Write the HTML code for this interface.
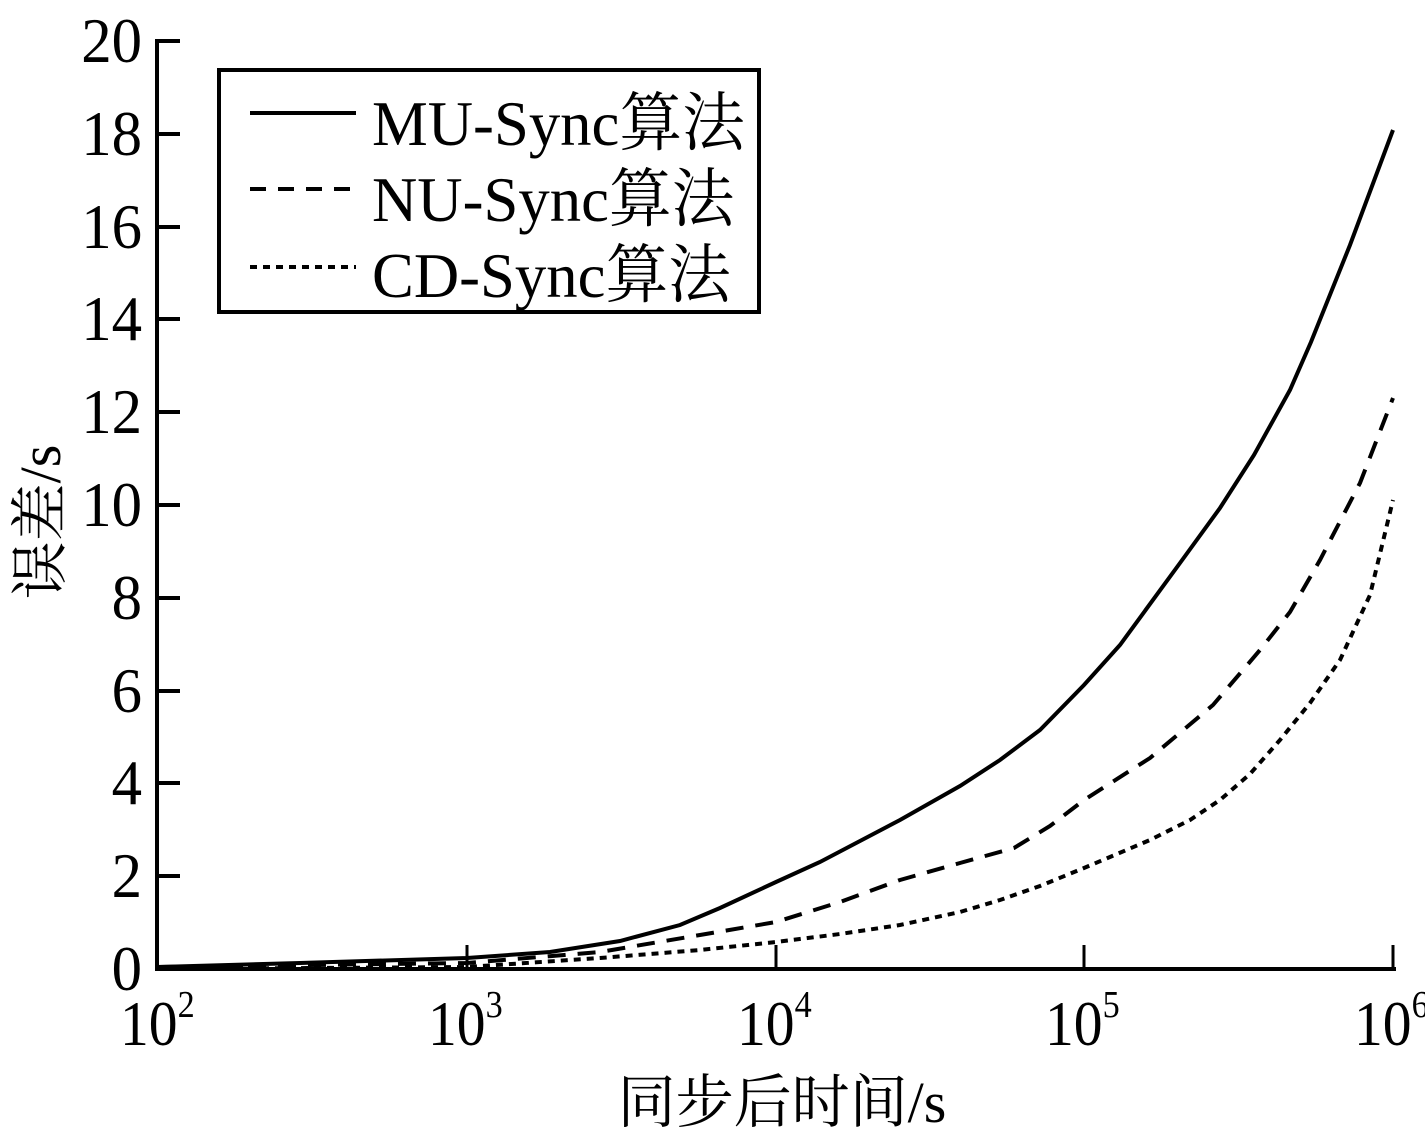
<!DOCTYPE html>
<html><head><meta charset="utf-8"><style>
html,body{margin:0;padding:0;background:#fff;}
svg text{font-family:"Liberation Serif","Noto Serif CJK SC",serif;fill:#000;}
</style></head><body>
<svg width="1425" height="1137" viewBox="0 0 1425 1137" xmlns="http://www.w3.org/2000/svg">
<g stroke="#000" stroke-width="4" fill="none">
<line x1="157" y1="39" x2="157" y2="971"/>
<line x1="155" y1="969" x2="1396" y2="969"/>
<line x1="157" y1="41" x2="180" y2="41"/>
<line x1="157" y1="134" x2="180" y2="134"/>
<line x1="157" y1="227" x2="180" y2="227"/>
<line x1="157" y1="319" x2="180" y2="319"/>
<line x1="157" y1="412" x2="180" y2="412"/>
<line x1="157" y1="505" x2="180" y2="505"/>
<line x1="157" y1="598" x2="180" y2="598"/>
<line x1="157" y1="691" x2="180" y2="691"/>
<line x1="157" y1="783" x2="180" y2="783"/>
<line x1="157" y1="876" x2="180" y2="876"/>
<line x1="467" y1="969" x2="467" y2="945" stroke-width="3"/>
<line x1="776" y1="969" x2="776" y2="945" stroke-width="3"/>
<line x1="1084" y1="969" x2="1084" y2="945" stroke-width="3"/>
<line x1="1393" y1="969" x2="1393" y2="945" stroke-width="3"/>
<rect x="219" y="70" width="540" height="242"/>
<line x1="250" y1="113" x2="356" y2="113"/>
<line x1="250" y1="189" x2="356" y2="189" stroke-dasharray="16,12"/>
<line x1="250" y1="267" x2="356" y2="267" stroke-dasharray="7,6"/>
<polyline points="158,967 300,963 467,958 550,952 620,941 680,925 720,908 776,882 820,862 900,820 960,786 1000,760 1040,730 1084,685 1120,645 1180,563 1220,508 1254,455 1290,390 1311,342 1350,245 1393,130"/>
<polyline stroke-dasharray="18,12" points="158,967 467,963 600,952 700,935 776,922 840,902 900,880 960,863 1014,848 1050,826 1084,800 1150,758 1213,705 1260,650 1290,612 1320,560 1360,483 1393,398"/>
<polyline stroke-dasharray="7,6" points="158,969 467,967 600,958 700,950 776,942 840,934 900,925 960,912 1000,900 1040,886 1084,868 1150,840 1190,820 1220,800 1250,774 1280,740 1310,703 1340,660 1370,595 1393,500"/>
</g>
<g font-size="64" text-anchor="end">
<text transform="translate(142,62) scale(0.95,1)">20</text>
<text transform="translate(142,155) scale(0.95,1)">18</text>
<text transform="translate(142,248) scale(0.95,1)">16</text>
<text transform="translate(142,340) scale(0.95,1)">14</text>
<text transform="translate(142,433) scale(0.95,1)">12</text>
<text transform="translate(142,526) scale(0.95,1)">10</text>
<text transform="translate(142,619) scale(0.95,1)">8</text>
<text transform="translate(142,712) scale(0.95,1)">6</text>
<text transform="translate(142,804) scale(0.95,1)">4</text>
<text transform="translate(142,897) scale(0.95,1)">2</text>
<text transform="translate(142,990) scale(0.95,1)">0</text>
</g>
<g font-size="64">
<text transform="translate(120,1045) scale(0.9,1)">10<tspan font-size="38" dy="-28">2</tspan></text>
<text transform="translate(428,1045) scale(0.9,1)">10<tspan font-size="38" dy="-28">3</tspan></text>
<text transform="translate(737,1045) scale(0.9,1)">10<tspan font-size="38" dy="-28">4</tspan></text>
<text transform="translate(1045,1045) scale(0.9,1)">10<tspan font-size="38" dy="-28">5</tspan></text>
<text transform="translate(1354,1045) scale(0.9,1)">10<tspan font-size="38" dy="-28">6</tspan></text>
</g>
<g font-size="64">
<text transform="translate(372,145) scale(0.98,1)">MU-Sync算法</text>
<text transform="translate(372,221) scale(0.98,1)">NU-Sync算法</text>
<text transform="translate(372,297) scale(0.98,1)">CD-Sync算法</text>
</g>
<text x="782" y="1122" font-size="58" text-anchor="middle">同步后时间/s</text>
<text transform="translate(60,522) rotate(-90)" font-size="58" text-anchor="middle">误差/s</text>
</svg>
</body></html>
